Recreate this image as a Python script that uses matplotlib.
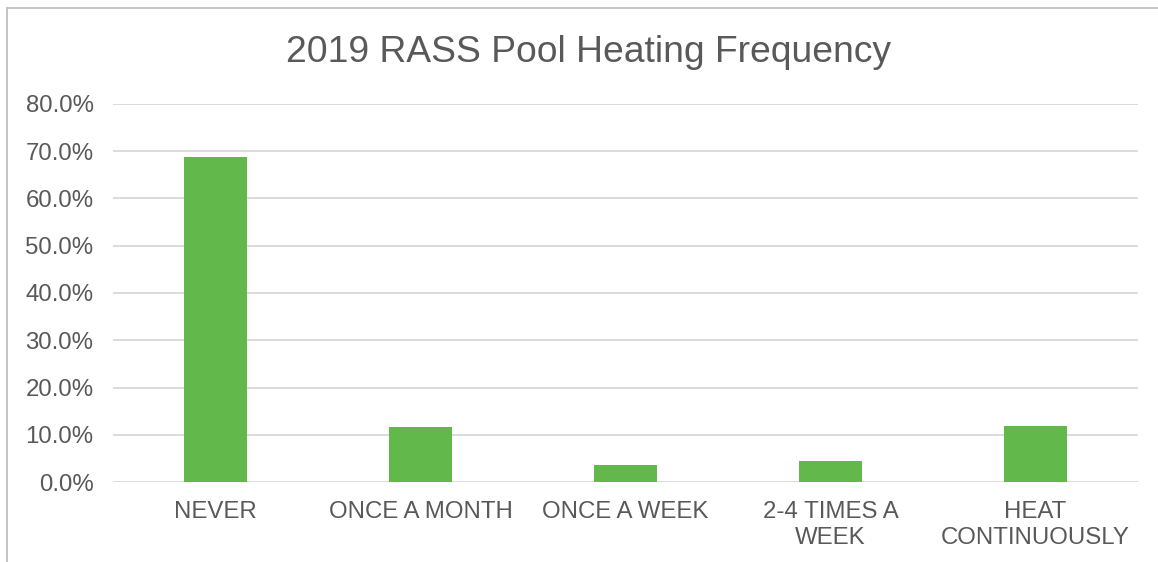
import matplotlib.pyplot as plt
from matplotlib.lines import Line2D
from matplotlib.ticker import PercentFormatter

plt.rcParams['font.family'] = ['Liberation Sans', 'DejaVu Sans']

categories = ['NEVER', 'ONCE A MONTH', 'ONCE A WEEK', '2-4 TIMES A\nWEEK', 'HEAT\nCONTINUOUSLY']
shares = [0.687, 0.116, 0.035, 0.044, 0.119]
y_ticks = [0.0, 0.1, 0.2, 0.3, 0.4, 0.5, 0.6, 0.7, 0.8]

text_col = '#595959'
grid_col = '#d9d9d9'
bar_col = '#62b84a'

fig = plt.figure(figsize=(11.58, 5.62), dpi=100)
ax = fig.add_axes([0.0976, 0.1423, 0.8851, 0.6727])

x = range(len(categories))
ax.bar(x, shares, width=0.31, color=bar_col, zorder=3)

ax.set_xlim(-0.5, len(categories) - 0.5)
ax.set_ylim(0, 0.8)
ax.set_yticks(y_ticks)
ax.yaxis.set_major_formatter(PercentFormatter(1.0, decimals=1))
ax.set_xticks(list(x))
ax.set_xticklabels(categories, linespacing=1.22)

ax.grid(axis='y', color=grid_col, linewidth=1.3, zorder=0)
for s in ax.spines.values():
    s.set_visible(False)
ax.tick_params(axis='both', length=0, colors=text_col, labelsize=17.3)
ax.tick_params(axis='y', pad=14)
ax.tick_params(axis='x', pad=14)

fig.text(0.508, 1 - 52 / 562, '2019 RASS Pool Heating Frequency',
         ha='center', va='center', fontsize=26.8, color=text_col)

# outer chart frame (only top/left visible in the crop)
fig.add_artist(Line2D([7 / 1158, 7 / 1158], [0, 1 - 8 / 562], color='#bfbfbf', lw=1.3))
fig.add_artist(Line2D([7 / 1158, 1], [1 - 8 / 562, 1 - 8 / 562], color='#bfbfbf', lw=1.3))

fig.savefig('out.png', dpi=100)
